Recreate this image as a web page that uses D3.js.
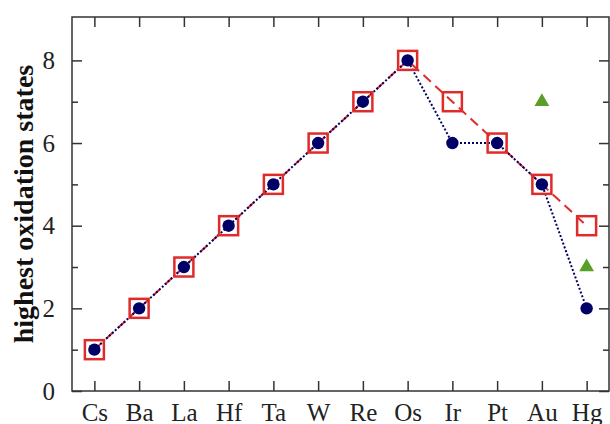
<!DOCTYPE html>
<html><head><meta charset="utf-8">
<script src="https://d3js.org/d3.v7.min.js"></script>
<style>body{margin:0;background:#fff}svg{display:block}</style>
</head><body>
<script>
const elements = ["Cs","Ba","La","Hf","Ta","W","Re","Os","Ir","Pt","Au","Hg"];
const squareVals = [1,2,3,4,5,6,7,8,7,6,5,4];
const circleVals = [1,2,3,4,5,6,7,8,6,6,5,2];
const triangleCats = ["Au","Hg"];
const triangleVals = [7,3];
const yMajorTicks = [0,2,4,6,8];
const yMinorTicks = [1,3,5,7];
const yLabel = "highest oxidation states";

const W = 610, H = 424;
const m = {left:72, right:1, top:17, bottom:33};
const svg = d3.select("body").append("svg").attr("width",W).attr("height",H);
const x = d3.scalePoint().domain(elements).range([m.left, W-m.right]).padding(0.5);
const y = d3.scaleLinear().domain([0, 9.05]).range([H-m.bottom, m.top]);
const font = "'Liberation Serif','Times New Roman',serif";

const redC = "#e02b2b", navy = "#000066", green = "#5a9e2a";
const lineR = d3.line().x((d,i)=>x(elements[i])).y(d=>y(d));
svg.append("path").datum(squareVals).attr("d",lineR).attr("fill","none")
  .attr("stroke",redC).attr("stroke-width",2).attr("stroke-dasharray","10,6");
svg.append("path").datum(circleVals).attr("d",lineR).attr("fill","none")
  .attr("stroke",navy).attr("stroke-width",2).attr("stroke-dasharray","2,2");

const s = 19;
svg.selectAll(".sq").data(squareVals).enter().append("rect")
  .attr("x",(d,i)=>x(elements[i])-s/2).attr("y",d=>y(d)-s/2)
  .attr("width",s).attr("height",s).attr("fill","none")
  .attr("stroke",redC).attr("stroke-width",2.5);
svg.selectAll(".ci").data(circleVals).enter().append("circle")
  .attr("cx",(d,i)=>x(elements[i])).attr("cy",d=>y(d)).attr("r",6.2).attr("fill",navy);
svg.selectAll(".tr").data(triangleVals).enter().append("path")
  .attr("d",d3.symbol().type(d3.symbolTriangle).size(95))
  .attr("transform",(d,i)=>`translate(${x(triangleCats[i])},${y(d)})`).attr("fill",green);

svg.append("rect").attr("x",m.left).attr("y",m.top).attr("width",W-m.right-m.left).attr("height",H-m.bottom-m.top)
  .attr("fill","none").attr("stroke","#333").attr("stroke-width",1.5);

const bx = svg.append("g").attr("transform",`translate(0,${H-m.bottom})`)
  .call(d3.axisBottom(x).tickSizeInner(-10).tickSizeOuter(0));
const tx = svg.append("g").attr("transform",`translate(0,${m.top})`)
  .call(d3.axisTop(x).tickSizeInner(-10).tickSizeOuter(0).tickFormat(""));
const ly = svg.append("g").attr("transform",`translate(${m.left},0)`)
  .call(d3.axisLeft(y).tickValues(yMajorTicks).tickSizeInner(-10).tickSizeOuter(0).tickPadding(17).tickFormat(d3.format("d")));
const lym = svg.append("g").attr("transform",`translate(${m.left},0)`)
  .call(d3.axisLeft(y).tickValues(yMinorTicks).tickSizeInner(-6).tickSizeOuter(0).tickFormat(""));
const ry = svg.append("g").attr("transform",`translate(${W-m.right},0)`)
  .call(d3.axisRight(y).tickValues(yMajorTicks).tickSizeInner(-10).tickSizeOuter(0).tickFormat(""));
const rym = svg.append("g").attr("transform",`translate(${W-m.right},0)`)
  .call(d3.axisRight(y).tickValues(yMinorTicks).tickSizeInner(-6).tickSizeOuter(0).tickFormat(""));
[bx,tx,ly,lym,ry,rym].forEach(a=>{
  a.select(".domain").remove();
  a.selectAll("line").attr("stroke","#333").attr("stroke-width",1.5);
  a.selectAll("text").attr("font-family",font).attr("font-size",25).attr("fill","#222");
});
bx.selectAll("text").attr("y",30).attr("dy","0");

svg.append("text").attr("transform",`translate(33,${(m.top+H-m.bottom)/2}) rotate(-90)`)
  .attr("text-anchor","middle").attr("font-family",font).attr("font-weight","bold")
  .attr("font-size",28).attr("fill","#111").text(yLabel);
</script>
</body></html>
